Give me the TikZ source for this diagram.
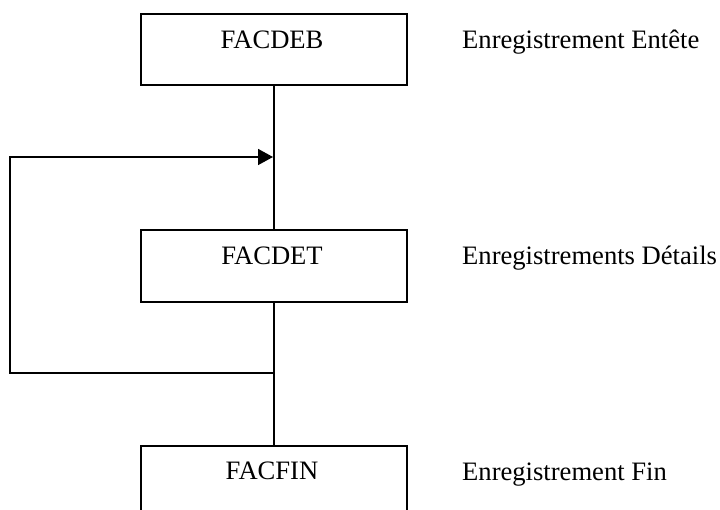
\documentclass[tikz,border=0pt]{standalone}
\usepackage{fontspec}
\setmainfont{Liberation Serif}
\usetikzlibrary{arrows.meta}
\tikzset{
  box/.style={draw, line width=1.6pt, minimum width=266pt, inner sep=0pt, anchor=north west},
  lbl/.style={font=\fontsize{26.6}{30}\selectfont, anchor=base, inner sep=0pt},
  side/.style={font=\fontsize{26.6}{30}\selectfont, anchor=base west, inner sep=0pt},
  conn/.style={line width=1.6pt},
}
\begin{document}
\begin{tikzpicture}[x=1pt,y=-1pt]
\useasboundingbox (0,0) rectangle (720,510);
\clip (0,0) rectangle (720,510);
\node[box, minimum height=71pt] (deb) at (140,13) {};
\node[box, minimum height=72pt] (det) at (140,229) {};
\node[box, minimum height=100pt] (fin) at (140,445) {};
\node[lbl] (tdeb) at (272,49) {FACDEB};
\node[lbl] (tdet) at (272,265) {FACDET};
\node[lbl] (tfin) at (272,479) {FACFIN};
\node[side] (sdeb) at (462,49) {Enregistrement Entête};
\node[side] (sdet) at (462,265) {Enregistrements Détails};
\node[side] (sfin) at (462,480) {Enregistrement Fin};
\coordinate (j1) at (273,157);
\coordinate (j2) at (273,373);
\coordinate (lt) at (10,157);
\coordinate (lb) at (10,373);
\draw[conn] (deb.south) -- (det.north);
\draw[conn] (det.south) -- (fin.north);
\draw[conn, -{Triangle[length=15pt,width=16pt]}] (j2) -- (lb) -- (lt) -- (j1);
\end{tikzpicture}
\end{document}
